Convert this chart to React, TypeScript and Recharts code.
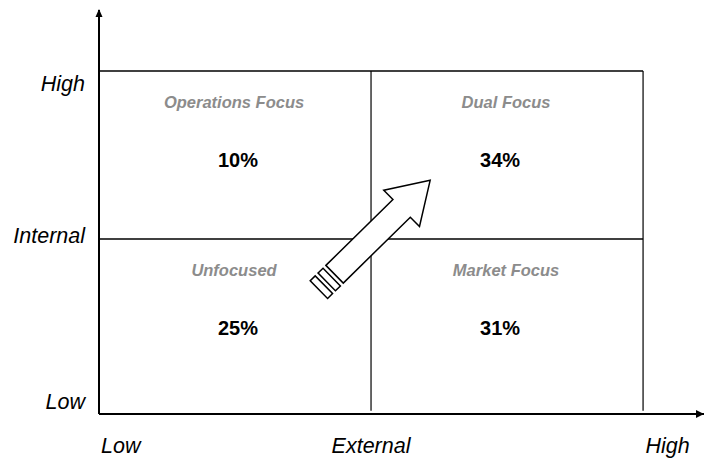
import React from "react";
import { ScatterChart, Scatter, XAxis, YAxis, ReferenceLine } from "recharts";

// quadrant labels and shares
const quadrantNames = ["Operations Focus", "Dual Focus", "Unfocused", "Market Focus"];
const quadrantShares = [10, 34, 25, 31];
const externalLevel = [0, 1, 0, 1];
const internalLevel = [1, 1, 0, 0];

// axis labels
const xTickLabels = ["Low", "External", "High"];
const xTickValues = [0.08, 1, 2.09];
const yTickLabels = ["Low", "Internal", "High"];
const yTickValues = [0.03, 1.02, 1.92];

// arrow tail (shaft end centre), in matrix units
const arrowTail = [{ x: 0.866, y: 0.79 }];

const xDomain: [number, number] = [0, 2.224];
const yDomain: [number, number] = [-0.042, 2.363];

const FONT = "'Liberation Sans', Arial, Helvetica, sans-serif";

const quadrants = quadrantNames.map((name, i) => ({
    name,
    share: quadrantShares[i],
    ext: externalLevel[i],
    x: externalLevel[i] + 0.5,
    y: internalLevel[i] + 1,
}));

const QuadrantLabel = (props: any) => {
    const { cx, cy, payload } = props;
    const pctShift = payload.ext === 0 ? 3 : -7;
    return (
        <g>
            <text
                x={cx - 1}
                y={cy + 31}
                textAnchor="middle"
                dominantBaseline="central"
                fontFamily={FONT}
                fontWeight="bold"
                fontStyle="italic"
                fontSize={16.5}
                fill="#8c8c8c"
            >
                {payload.name}
            </text>
            <text
                x={cx + pctShift}
                y={cy + 89}
                textAnchor="middle"
                dominantBaseline="central"
                fontFamily={FONT}
                fontWeight="bold"
                fontSize={20}
                fill="#000"
            >
                {payload.share}%
            </text>
        </g>
    );
};

const BigArrow = (props: any) => {
    const { cx, cy } = props;
    const w = 12.4;
    const hw = 25.5;
    const shaft = 94;
    const tip = 134;
    const body = `0,${-w} ${shaft},${-w} ${shaft},${-hw} ${tip},0 ${shaft},${hw} ${shaft},${w} 0,${w}`;
    return (
        <g transform={`translate(${cx},${cy}) rotate(-44.5)`}>
            <polygon points={body} fill="#fff" stroke="#000" strokeWidth={1.5} />
            <rect x={-11} y={-w} width={7} height={2 * w} fill="#fff" stroke="#000" strokeWidth={1.5} />
            <rect x={-22} y={-w} width={7} height={2 * w} fill="#fff" stroke="#000" strokeWidth={1.5} />
        </g>
    );
};

const RightHead = (props: any) => {
    const { cx, cy } = props;
    return <polygon points={`${cx},${cy} ${cx - 8},${cy - 4} ${cx - 8},${cy + 4}`} fill="#000" />;
};

const UpHead = (props: any) => {
    const { cx, cy } = props;
    return <polygon points={`${cx},${cy - 1} ${cx - 3.5},${cy + 7} ${cx + 3.5},${cy + 7}`} fill="#000" />;
};

const XTick = (props: any) => {
    const { x, y, payload } = props;
    const idx = xTickValues.indexOf(payload.value);
    return (
        <text x={x} y={y} textAnchor="middle" dominantBaseline="central" fontFamily={FONT} fontStyle="italic" fontSize={21.5} fill="#000">
            {xTickLabels[idx]}
        </text>
    );
};

const YTick = (props: any) => {
    const { x, y, payload } = props;
    const idx = yTickValues.indexOf(payload.value);
    return (
        <text x={x} y={y} textAnchor="end" dominantBaseline="central" fontFamily={FONT} fontStyle="italic" fontSize={21.5} fill="#000">
            {yTickLabels[idx]}
        </text>
    );
};

export default function App() {
    return (
        <div style={{ width: 704, height: 459, background: "#fff" }}>
            <style>{"body{margin:0}"}</style>
            <ScatterChart width={704} height={459} margin={{ top: 10, right: 0, bottom: 0, left: 0 }}>
                <XAxis
                    type="number"
                    dataKey="x"
                    domain={xDomain}
                    ticks={xTickValues}
                    interval={0}
                    tick={<XTick />}
                    tickLine={false}
                    tickSize={0}
                    tickMargin={32}
                    height={45}
                    axisLine={{ stroke: "#000", strokeWidth: 2 }}
                />
                <YAxis
                    type="number"
                    dataKey="y"
                    domain={yDomain}
                    ticks={yTickValues}
                    interval={0}
                    tick={<YTick />}
                    tickLine={false}
                    tickSize={0}
                    tickMargin={14}
                    width={99}
                    axisLine={{ stroke: "#000", strokeWidth: 2 }}
                />
                <ReferenceLine segment={[{ x: 0, y: 2 }, { x: 2, y: 2 }]} stroke="#000" strokeWidth={1.5} />
                <ReferenceLine segment={[{ x: 0, y: 1 }, { x: 2, y: 1 }]} stroke="#000" strokeWidth={1.5} />
                <ReferenceLine segment={[{ x: 1, y: -0.022 }, { x: 1, y: 2 }]} stroke="#000" strokeWidth={1.2} />
                <ReferenceLine segment={[{ x: 2, y: -0.022 }, { x: 2, y: 2 }]} stroke="#000" strokeWidth={1.2} />
                <Scatter data={quadrants} shape={<QuadrantLabel />} isAnimationActive={false} legendType="none" />
                <Scatter data={arrowTail} shape={<BigArrow />} isAnimationActive={false} legendType="none" />
                <Scatter data={[{ x: xDomain[1], y: yDomain[0] }]} shape={<RightHead />} isAnimationActive={false} legendType="none" />
                <Scatter data={[{ x: 0, y: yDomain[1] }]} shape={<UpHead />} isAnimationActive={false} legendType="none" />
            </ScatterChart>
        </div>
    );
}
